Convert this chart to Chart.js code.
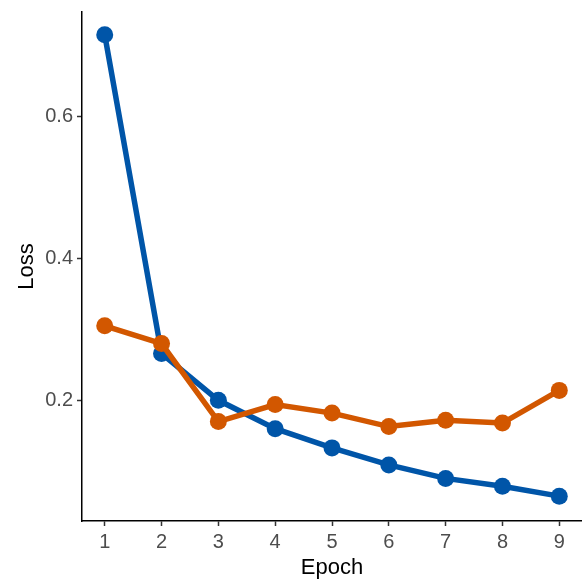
<!DOCTYPE html>
<html>
<head>
<meta charset="utf-8">
<script src="https://cdn.jsdelivr.net/npm/chart.js@4/dist/chart.umd.min.js"></script>
<style>
  html, body { margin: 0; padding: 0; background: #fff; overflow: hidden; }
  #wrap { width: 582px; height: 581px; }
</style>
</head>
<body>
<div id="wrap"><canvas id="c" width="582" height="581"></canvas></div>
<script>
const epochs = [1, 2, 3, 4, 5, 6, 7, 8, 9];
const blueLoss = [0.715, 0.266, 0.200, 0.160, 0.133, 0.109, 0.090, 0.079, 0.065];
const orangeLoss = [0.305, 0.280, 0.170, 0.194, 0.182, 0.163, 0.172, 0.168, 0.214];
const yTicks = [0.2, 0.4, 0.6];
const xTicks = [1, 2, 3, 4, 5, 6, 7, 8, 9];

const toPts = (vals) => epochs.map((e, i) => ({ x: e, y: vals[i] }));
const FONT = 'Liberation Sans, Arial, sans-serif';

new Chart(document.getElementById('c'), {
  type: 'line',
  data: {
    datasets: [
      {
        label: 'series1',
        data: toPts(blueLoss),
        borderColor: '#0055A8',
        backgroundColor: '#0055A8',
        borderWidth: 5.5,
        pointRadius: 8.5,
        pointHoverRadius: 8.5,
        pointBorderWidth: 0,
        tension: 0,
        clip: false,
        order: 2
      },
      {
        label: 'series2',
        data: toPts(orangeLoss),
        borderColor: '#D25700',
        backgroundColor: '#D25700',
        borderWidth: 5.5,
        pointRadius: 8.5,
        pointHoverRadius: 8.5,
        pointBorderWidth: 0,
        tension: 0,
        clip: false,
        order: 1
      }
    ]
  },
  options: {
    responsive: false,
    animation: false,
    devicePixelRatio: 1,
    layout: { autoPadding: false, padding: { top: 12, right: 0, left: 0, bottom: 0 } },
    plugins: { legend: { display: false }, tooltip: { enabled: false } },
    scales: {
      x: {
        type: 'linear',
        min: 0.6,
        max: 9.4,
        afterBuildTicks: (s) => { s.ticks = xTicks.map(v => ({ value: v })); },
        afterFit: (s) => { s.height = 60; s.paddingLeft = 0; s.paddingRight = 0; },
        border: { display: true, color: '#000', width: 1.5 },
        grid: { display: true, drawOnChartArea: false, drawTicks: true, tickLength: 5, tickWidth: 1.5, tickColor: '#333' },
        ticks: {
          color: '#4D4D4D',
          font: { family: FONT, size: 20 },
          padding: 4,
          maxRotation: 0,
          autoSkip: false,
          callback: (v) => String(v)
        },
        title: {
          display: true,
          text: 'Epoch',
          color: '#000',
          font: { family: FONT, size: 22 },
          padding: { top: 0, bottom: 0 }
        }
      },
      y: {
        type: 'linear',
        min: 0.03,
        max: 0.747,
        afterBuildTicks: (s) => { s.ticks = yTicks.map(v => ({ value: v })); },
        afterFit: (s) => { s.width = 82; s.paddingTop = 0; s.paddingBottom = 0; },
        border: { display: true, color: '#000', width: 1.5 },
        grid: { display: true, drawOnChartArea: false, drawTicks: true, tickLength: 5, tickWidth: 1.5, tickColor: '#333' },
        ticks: {
          color: '#4D4D4D',
          font: { family: FONT, size: 20 },
          padding: 4,
          autoSkip: false,
          callback: (v) => Number(v).toFixed(1)
        },
        title: {
          display: true,
          text: 'Loss',
          color: '#000',
          font: { family: FONT, size: 22 },
          padding: { top: 14, bottom: 0 }
        }
      }
    }
  }
});
</script>
</body>
</html>
